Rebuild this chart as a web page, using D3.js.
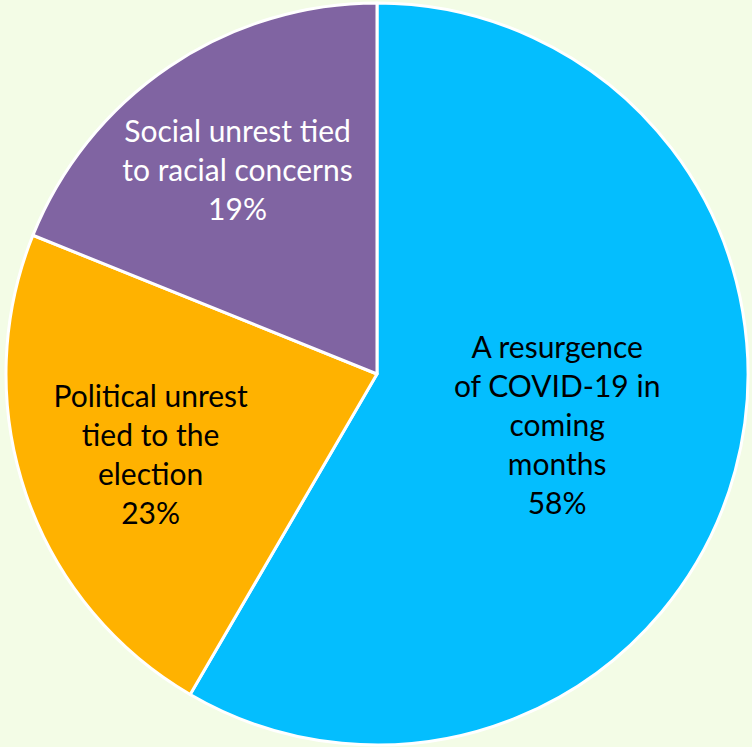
<!DOCTYPE html>
<html>
<head>
<meta charset="utf-8">
<script src="https://cdn.jsdelivr.net/npm/d3@7"></script>
<style>
  html, body { margin: 0; padding: 0; background: #F3FCE6; }
  svg { display: block; }
</style>
</head>
<body>
<svg id="chart" width="752" height="747"></svg>
<script>
// ---- data ----
const categories = [
  "A resurgence\nof COVID-19 in\ncoming\nmonths",
  "Political unrest\ntied to the\nelection",
  "Social unrest tied\nto racial concerns"
];
const values = [58.4, 22.7, 18.9];
const percentLabels = ["58%", "23%", "19%"];

// ---- styling / layout ----
const colors = ["#04BEFE", "#FFB200", "#8064A2"];
const textColors = ["#000000", "#000000", "#FFFFFF"];
const labelRadiusFactor = [0.503, 0.645, 0.672];

const W = 752, H = 747;
const cx = 377, cy = 374, R = 371;
const fontSize = 30, lineH = 39;

const svg = d3.select("#chart");
svg.append("rect").attr("width", W).attr("height", H).attr("fill", "#F3FCE6");

const g = svg.append("g").attr("transform", `translate(${cx},${cy})`);

const data = values.map((v, i) => ({ v, i }));
const pie = d3.pie().value(d => d.v).sort(null).startAngle(0).endAngle(2 * Math.PI);
const arcs = pie(data);
const arc = d3.arc().innerRadius(0).outerRadius(R);

g.selectAll("path.slice")
  .data(arcs)
  .join("path")
  .attr("class", "slice")
  .attr("d", arc)
  .attr("fill", d => colors[d.data.i])
  .attr("stroke", "#FFFFFF")
  .attr("stroke-width", 3)
  .attr("stroke-linejoin", "round");

arcs.forEach(a => {
  const i = a.data.i;
  const lr = R * labelRadiusFactor[i];
  const la = d3.arc().innerRadius(lr).outerRadius(lr);
  const [x, y] = la.centroid(a);
  const lines = categories[i].split("\n").concat([percentLabels[i]]);
  const n = lines.length;
  const t = g.append("text")
    .attr("text-anchor", "middle")
    .attr("font-family", "Lato, 'Open Sans', sans-serif")
    .attr("font-size", fontSize)
    .attr("fill", textColors[i]);
  lines.forEach((ln, k) => {
    t.append("tspan")
      .attr("x", x)
      .attr("y", y + (k - (n - 1) / 2) * lineH + fontSize * 0.35 + 3)
      .text(ln);
  });
});
</script>
</body>
</html>
